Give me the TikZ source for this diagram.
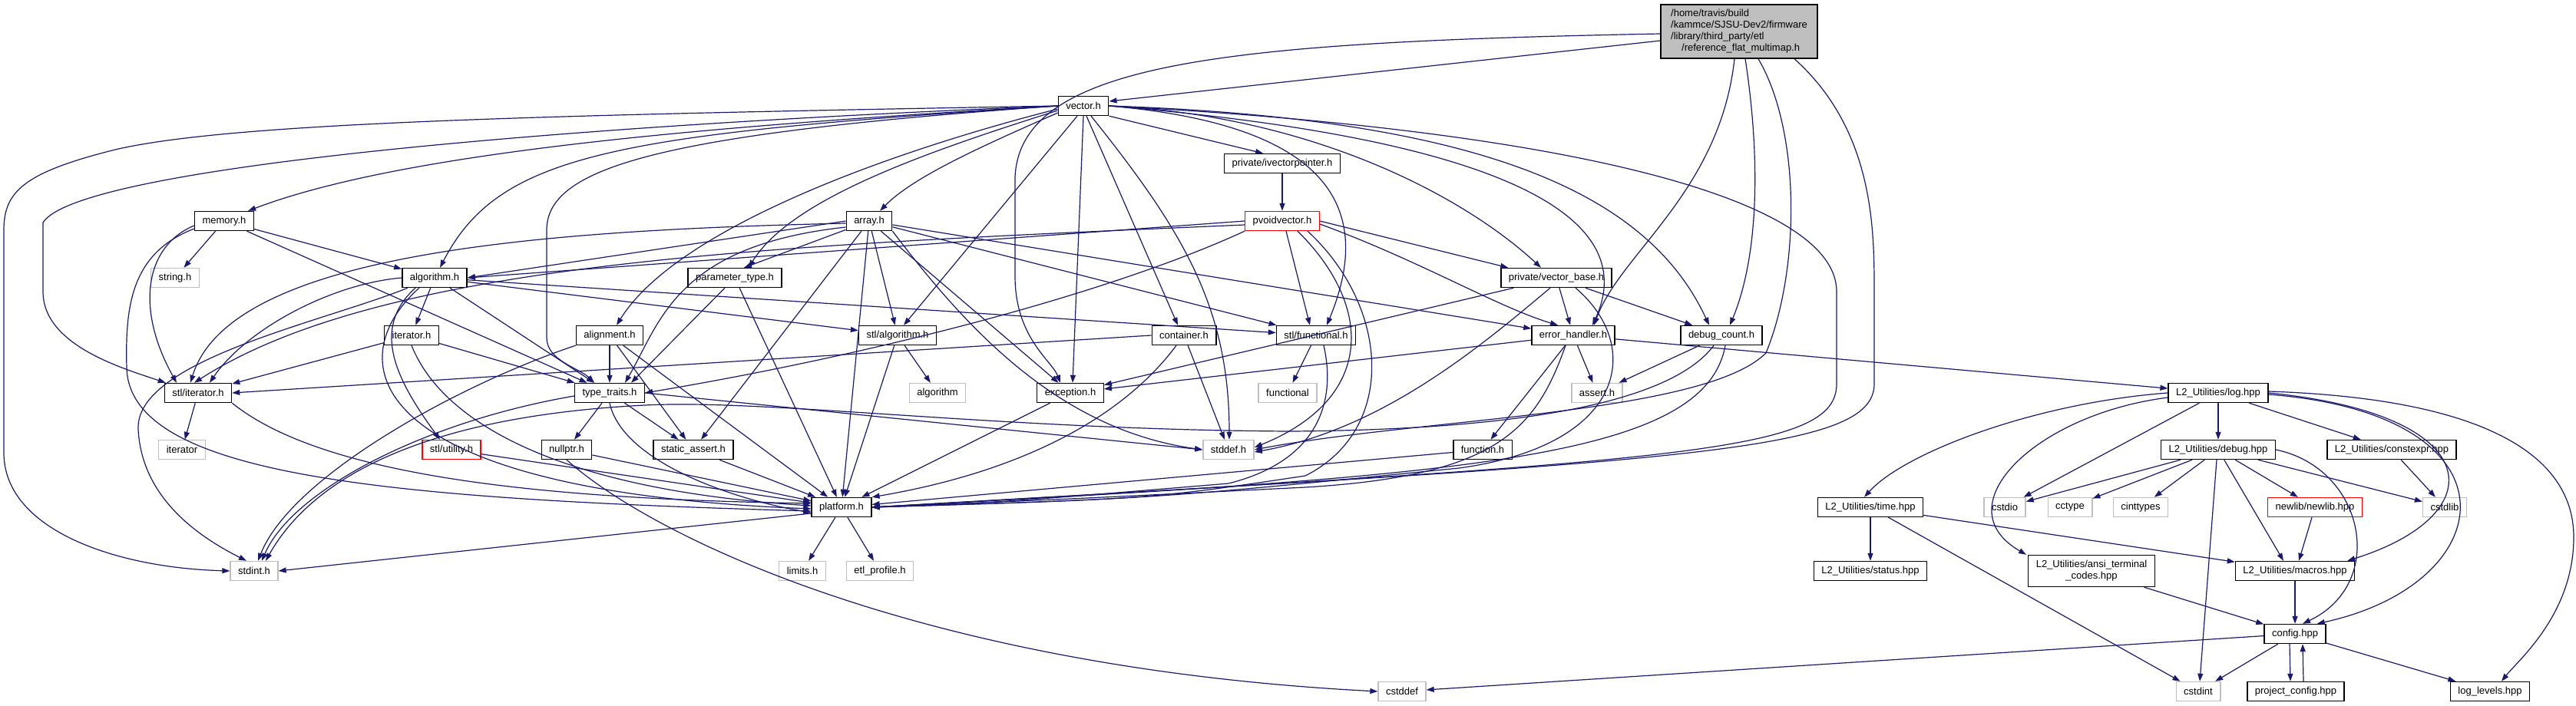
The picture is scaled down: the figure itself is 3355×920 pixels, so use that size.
\documentclass[tikz,border=0pt]{standalone}
\usepackage{fontspec}
\setmainfont{Liberation Sans}
\usetikzlibrary{arrows.meta}
\definecolor{eblue}{HTML}{191970}
\definecolor{gborder}{HTML}{BFBFBF}
\definecolor{mfill}{HTML}{BFBFBF}
\newcommand\dxfont{\fontsize{13}{15}\selectfont}
\begin{document}
\begin{tikzpicture}[x=1pt,y=-1pt,
 box/.style={draw=black,line width=1.4pt,fill=white,minimum height=25pt,inner xsep=10pt,inner ysep=2pt,font=\dxfont},
 gbox/.style={box,draw=gborder},
 rbox/.style={box,draw=red},
 e/.style={draw=eblue,line width=1.2pt,-{Triangle[length=10pt,width=7pt]}}]
\fill[white] (0,0) rectangle (3355,920);
\useasboundingbox (0,0) rectangle (3355,920);

% nodes
\node[box,fill=mfill,align=left,minimum width=204pt,minimum height=70pt] (main) at (2265,41)
 {/home/travis/build\\/kammce/SJSU-Dev2/firmware\\/library/third\_party/etl\\\hspace*{14pt}/reference\_flat\_multimap.h};
\node[box] (vector) at (1411,138) {vector.h};
\node[box] (ivp) at (1670,213) {private/ivectorpointer.h};
\node[box] (memory) at (292,288) {memory.h};
\node[box] (array) at (1132,288) {array.h};
\node[rbox] (pvoid) at (1670,288) {pvoidvector.h};
\node[gbox] (string) at (228,362) {string.h};
\node[box] (algorithm) at (566,362) {algorithm.h};
\node[box] (ptype) at (957,362) {parameter\_type.h};
\node[box] (vbase) at (2027,362) {private/vector\_base.h};
\node[box] (iteratorh) at (536,437) {iterator.h};
\node[box] (alignment) at (794,437) {alignment.h};
\node[box] (stlalg) at (1169,437) {stl/algorithm.h};
\node[box] (container) at (1542,437) {container.h};
\node[box] (stlfunc) at (1714,437) {stl/functional.h};
\node[box] (errh) at (2049,437) {error\_handler.h};
\node[box] (dbgc) at (2242,437) {debug\_count.h};
\node[box] (stlit) at (258,512) {stl/iterator.h};
\node[box] (ttraits) at (794,512) {type\_traits.h};
\node[gbox] (algorithmg) at (1221,512) {algorithm};
\node[box] (exception) at (1394,512) {exception.h};
\node[gbox] (functional) at (1677,512) {functional};
\node[gbox] (asserth) at (2080,512) {assert.h};
\node[box] (log) at (2889,512) {L2\_Utilities/log.hpp};
\node[gbox] (iterg) at (237,586) {iterator};
\node[rbox] (stlutil) at (588,586) {stl/utility.h};
\node[box] (nullptr) at (738,586) {nullptr.h};
\node[box] (sassert) at (903,586) {static\_assert.h};
\node[gbox] (stddef) at (1600,586) {stddef.h};
\node[box] (function) at (1931,586) {function.h};
\node[box] (debug) at (2889,586) {L2\_Utilities/debug.hpp};
\node[box] (constexpr) at (3115,586) {L2\_Utilities/constexpr.hpp};
\node[box] (platform) at (1096,661) {platform.h};
\node[box] (time) at (2436,661) {L2\_Utilities/time.hpp};
\node[gbox] (cstdio) at (2611,661) {cstdio};
\node[gbox] (cctype) at (2696,661) {cctype};
\node[gbox] (cinttypes) at (2788,661) {cinttypes};
\node[rbox] (newlib) at (3015,661) {newlib/newlib.hpp};
\node[gbox] (cstdlib) at (3184,661) {cstdlib};
\node[gbox] (stdint) at (331,744) {stdint.h};
\node[gbox] (limits) at (1045,744) {limits.h};
\node[gbox] (etlprof) at (1146,744) {etl\_profile.h};
\node[box] (status) at (2436,744) {L2\_Utilities/status.hpp};
\node[box,align=center,minimum height=41pt] (ansi) at (2724,744) {L2\_Utilities/ansi\_terminal\\\_codes.hpp};
\node[box] (macros) at (2989,744) {L2\_Utilities/macros.hpp};
\node[box] (config) at (2989,826) {config.hpp};
\node[gbox] (cstddef) at (1826,901) {cstddef};
\node[gbox] (cstdint) at (2863,901) {cstdint};
\node[box] (projcfg) at (2990,901) {project\_config.hpp};
\node[box] (loglevels) at (3243,901) {log\_levels.hpp};

% main
\draw[e] ([yshift=-12pt]main.west) -- ([yshift=6pt]vector.east);
\draw[e] ([yshift=-3pt]main.west) .. controls (1600,55) and (1330,80) .. (1322,230) -- (1322,360) .. controls (1322,440) and (1370,470) .. ([xshift=-13pt]exception.north);
\draw[e] ([xshift=-6pt]main.south) .. controls (2240,250) and (2110,330) .. ([xshift=27pt]errh.north);
\draw[e] ([xshift=8pt]main.south) .. controls (2292,200) and (2292,330) .. ([xshift=11pt]dbgc.north);
\draw[e] ([xshift=25pt]main.south) .. controls (2345,170) and (2345,350) .. (2300,460) .. controls (2220,540) and (1850,545) .. (stddef.east);
\draw[e] ([xshift=72pt]main.south) .. controls (2441,170) and (2441,300) .. (2441,380) -- (2441,500) .. controls (2441,590) and (2200,600) .. (platform.east);

% vector
\draw[e] (vector.west) .. controls (700,150) and (300,160) .. (150,195) .. controls (30,225) and (5,250) .. (5,300) -- (5,590) .. controls (5,690) and (150,740) .. (stdint.west);
\draw[e] (vector.west) .. controls (700,165) and (100,220) .. (56,290) -- (56,380) .. controls (56,450) and (160,480) .. ([xshift=2pt]stlit.north west);
\draw[e] (vector.west) .. controls (900,165) and (520,200) .. ([xshift=-8pt]memory.north east);
\draw[e] (vector.west) .. controls (800,175) and (650,200) .. ([xshift=7pt]algorithm.north);
\draw[e] (vector.west) .. controls (850,175) and (712,220) .. (712,300) -- (712,440) .. controls (712,470) and (755,480) .. ([xshift=-20pt]ttraits.north);
\draw[e] ([yshift=-4pt]vector.west) .. controls (1150,200) and (880,300) .. ([xshift=9pt]alignment.north);
\draw[e] ([yshift=-6pt]vector.west) .. controls (1200,200) and (1030,260) .. ([xshift=18pt]ptype.north);
\draw[e] ([yshift=-9pt]vector.west) .. controls (1280,190) and (1190,230) .. ([xshift=14pt]array.north);
\draw[e] ([xshift=-8pt]vector.south) -- ([xshift=8pt]stlalg.north);
\draw[e] (vector.south) -- ([xshift=3pt]exception.north);
\draw[e] ([xshift=4pt]vector.south) -- ([xshift=-8pt]container.north);
\draw[e] ([xshift=10pt]vector.south) .. controls (1540,300) and (1601,400) .. ([xshift=1pt]stddef.north);
\draw[e] (vector.south east) -- ([xshift=-25pt]ivp.north);
\draw[e] (vector.east) .. controls (1700,160) and (1800,250) .. ([xshift=14pt]stlfunc.north);
\draw[e] (vector.east) .. controls (1700,150) and (1900,250) .. ([xshift=-20pt]vbase.north);
\draw[e] (vector.east) .. controls (1950,180) and (2140,280) .. ([xshift=25pt]errh.north);
\draw[e] (vector.east) .. controls (1950,155) and (2150,260) .. ([xshift=-16pt]dbgc.north);
\draw[e] (vector.east) .. controls (2050,170) and (2392,260) .. (2392,380) -- (2392,500) .. controls (2392,590) and (2200,600) .. (platform.east);

\draw[e] (ivp) -- (pvoid);

% pvoidvector
\draw[e] (pvoid.west) -- (algorithm.east);
\draw[e] ([yshift=-5pt]pvoid.west) .. controls (1000,320) and (500,340) .. ([xshift=-5pt]stlit.north);
\draw[e] (pvoid.south west) .. controls (1450,380) and (1150,460) .. (ttraits.east);
\draw[e] ([xshift=5pt]pvoid.south) -- ([xshift=-8pt]stlfunc.north);
\draw[e] (pvoid.east) -- ([xshift=10pt]vbase.north west);
\draw[e] ([yshift=-4pt]pvoid.east) .. controls (1850,340) and (1950,400) .. ([xshift=-20pt]errh.north);
\draw[e] ([xshift=20pt]pvoid.south) .. controls (1790,400) and (1790,520) .. ([yshift=3pt]stddef.east);
\draw[e] ([xshift=33pt]pvoid.south) .. controls (1810,400) and (1820,560) .. (1700,620) .. controls (1500,650) .. (platform.east);

% memory
\draw[e] (memory) -- (string);
\draw[e] (memory) -- (algorithm);
\draw[e] (memory) -- (ttraits);
\draw[e] ([yshift=-6pt]memory.west) .. controls (190,320) and (175,400) .. ([xshift=-28pt]stlit.north);
\draw[e] ([yshift=-10pt]memory.west) .. controls (170,330) and (163,400) .. (165,480) .. controls (170,620) and (500,650) .. ([yshift=-5pt]platform.west);

% array
\draw[e] (array.west) -- (algorithm.east);
\draw[e] ([yshift=-3pt]array.west) .. controls (700,300) and (300,330) .. ([xshift=-10pt]stlit.north);
\draw[e] ([yshift=-8pt]array.west) .. controls (880,320) and (860,420) .. ([xshift=20pt]ttraits.north);
\draw[e] (array) -- ([xshift=12pt]ptype.north);
\draw[e] (array) -- (sassert);
\draw[e] (array) -- (platform);
\draw[e] (array) -- (stlalg);
\draw[e] (array) -- (exception);
\draw[e] (array.south east) .. controls (1260,430) and (1380,560) .. (stddef.west);
\draw[e] (array) -- (stlfunc);
\draw[e] (array) -- (errh);

% algorithm
\draw[e] (algorithm) -- (stlalg);
\draw[e] (algorithm) -- (stlfunc);
\draw[e] (algorithm) -- (iteratorh);
\draw[e] (algorithm) -- (ttraits);
\draw[e] (algorithm.west) .. controls (430,370) and (320,430) .. ([xshift=15pt]stlit.north);
\draw[e] ([xshift=-35pt]algorithm.south) .. controls (420,420) and (175,470) .. (180,560) .. controls (185,650) and (260,700) .. ([xshift=-10pt]stdint.north);
\draw[e] ([xshift=-25pt]algorithm.south) .. controls (480,430) and (520,500) .. ([xshift=-15pt]stlutil.north);
\draw[e] ([xshift=-20pt]algorithm.south) .. controls (440,470) and (470,640) .. ([yshift=-2pt]platform.west);

% iterator.h
\draw[e] (iteratorh) -- (stlit);
\draw[e] (iteratorh) -- (ttraits);
\draw[e] (iteratorh.south) .. controls (580,560) and (750,640) .. ([yshift=2pt]platform.west);

% alignment
\draw[e] (alignment) -- (ttraits);
\draw[e] (alignment) -- (sassert);
\draw[e] (alignment) -- (platform);
\draw[e] (alignment.south west) .. controls (600,500) and (380,620) .. ([xshift=5pt]stdint.north);

% type_traits
\draw[e] (ttraits) -- (nullptr);
\draw[e] (ttraits) -- (sassert);
\draw[e] (ttraits.south) .. controls (810,600) and (950,650) .. ([yshift=-7pt]platform.west);
\draw[e] (ttraits.east) -- (stddef.west);
\draw[e] ([yshift=-4pt]ttraits.west) .. controls (550,550) and (380,640) .. ([xshift=10pt]stdint.north);

% debug_count
\draw[e] ([xshift=-10pt]dbgc.south) .. controls (2180,520) and (2000,560) .. (1680,562) .. controls (1300,560) and (1000,520) .. (840,528) .. controls (600,540) and (420,600) .. ([xshift=15pt]stdint.north);
\draw[e] (dbgc) -- (asserth);
\draw[e] ([xshift=5pt]dbgc.south) .. controls (2220,600) and (1900,620) .. (platform.east);

% vector_base
\draw[e] (vbase) -- (exception);
\draw[e] (vbase) -- (errh);
\draw[e] (vbase) -- (dbgc);
\draw[e] ([xshift=-8pt]vbase.south) .. controls (1930,450) and (1800,560) .. ([yshift=-3pt]stddef.east);
\draw[e] ([xshift=25pt]vbase.south) .. controls (2140,450) and (2120,580) .. (1900,610) .. controls (1500,650) .. (platform.east);

% error_handler
\draw[e] (errh) -- (exception);
\draw[e] (errh) -- (asserth);
\draw[e] (errh) -- (function);
\draw[e] (errh) -- (log);
\draw[e] ([xshift=-10pt]errh.south) .. controls (2000,560) and (1950,620) .. (1700,635) .. controls (1400,650) .. (platform.east);

\draw[e] (function) -- (platform);
\draw[e] (stlfunc) -- (functional);
\draw[e] ([xshift=10pt]stlfunc.south) .. controls (1740,520) and (1720,600) .. (1600,630) .. controls (1300,655) .. (platform.east);
\draw[e] (container.west) -- (stlit.east);
\draw[e] (container) -- (stddef);
\draw[e] ([xshift=-10pt]container.south) .. controls (1450,560) and (1300,620) .. (platform.north east);
\draw[e] (stlalg) -- (algorithmg);
\draw[e] (stlalg) -- (platform);
\draw[e] (exception) -- (platform);
\draw[e] (ptype) -- ([xshift=28pt]ttraits.north);
\draw[e] (ptype) -- (platform);
\draw[e] (sassert) -- (platform);
\draw[e] (stlit) -- (iterg);
\draw[e] (stlit.south east) .. controls (420,620) and (700,650) .. ([yshift=5pt]platform.west);
\draw[e] (stlutil) -- (platform);
\draw[e] (nullptr) -- (platform);
\draw[e] (nullptr.south) .. controls (850,700) and (1200,870) .. (cstddef.west);
\draw[e] (platform) -- (limits);
\draw[e] (platform) -- (etlprof);
\draw[e] ([yshift=-8pt]platform.west) -- (stdint.east);

% log.hpp
\draw[e] (log) -- (debug);
\draw[e] (log) -- (constexpr);
\draw[e] (log) -- (cstdio);
\draw[e] (log.west) .. controls (2650,525) and (2480,590) .. ([xshift=-8pt]time.north);
\draw[e] ([yshift=-6pt]log.west) .. controls (2650,540) and (2530,660) .. ([xshift=-2pt]ansi.north west);
\draw[e] (log.east) .. controls (3240,540) and (3250,670) .. ([xshift=-10pt]macros.north east);
\draw[e] ([yshift=-2pt]log.east) .. controls (3290,540) and (3260,760) .. ([xshift=-12pt]config.north east);
\draw[e] ([yshift=2pt]log.east) .. controls (3250,520) and (3352,600) .. (3352,700) .. controls (3352,800) and (3280,860) .. ([xshift=15pt]loglevels.north);

% debug.hpp
\draw[e] (debug) -- (cstdio);
\draw[e] (debug) -- (cctype);
\draw[e] (debug) -- (cinttypes);
\draw[e] (debug) -- (newlib);
\draw[e] (debug) -- (cstdlib);
\draw[e] (debug) -- ([xshift=-15pt]macros.north);
\draw[e] ([xshift=-2pt]debug.south) -- ([xshift=2pt]cstdint.north);
\draw[e] (debug.east) .. controls (3080,610) and (3110,760) .. ([xshift=10pt]config.north);

\draw[e] (constexpr) -- (cstdlib);
\draw[e] (newlib) -- ([xshift=5pt]macros.north);
\draw[e] (time) -- (status);
\draw[e] (time) -- (macros);
\draw[e] (time) -- (cstdint);
\draw[e] (ansi) -- (config);
\draw[e] (macros) -- (config);
\draw[e] (config) -- (cstdint);
\draw[e] (config) -- (loglevels);
\draw[e] (config) -- (cstddef);
\draw[e] ([xshift=-7pt]config.south) -- ([xshift=-7pt]projcfg.north);
\draw[e] ([xshift=10pt]projcfg.north) -- ([xshift=10pt]config.south);
\end{tikzpicture}
\end{document}
